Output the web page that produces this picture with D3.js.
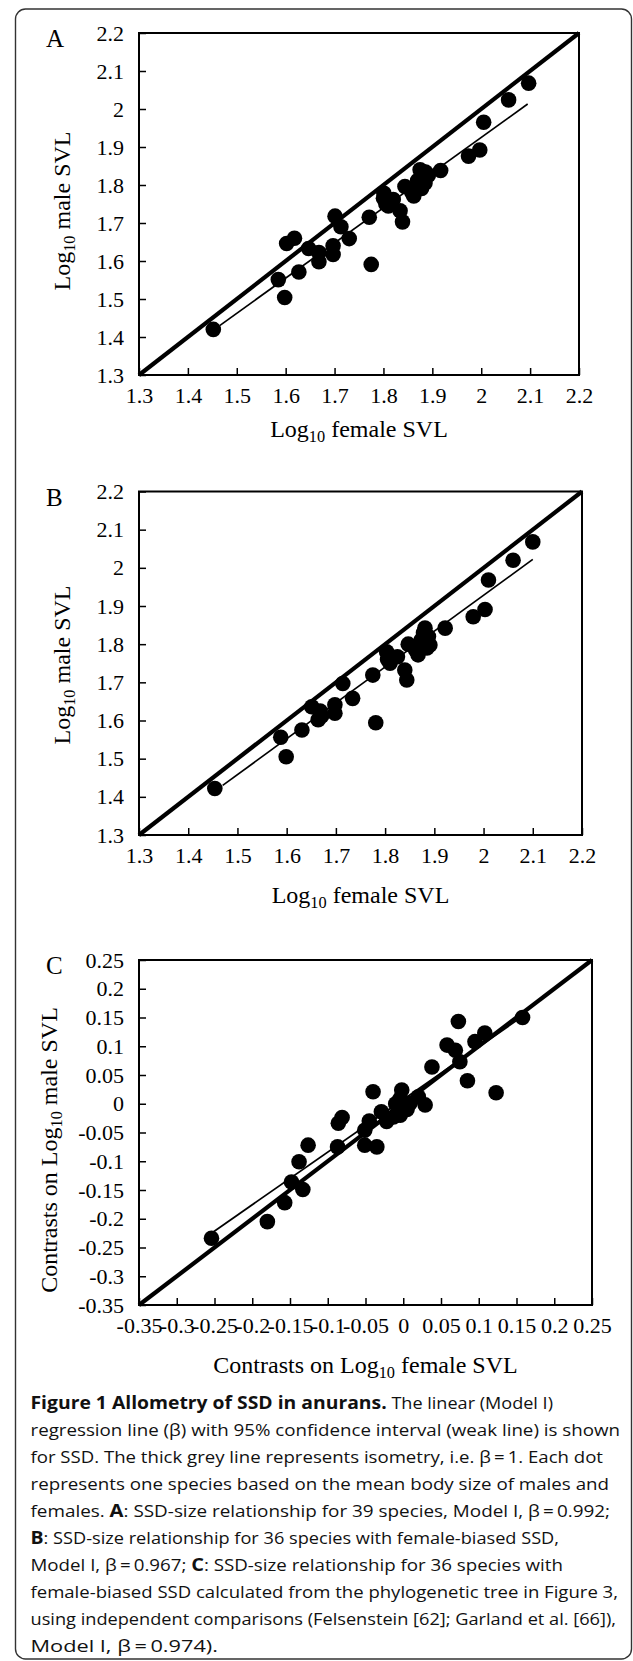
<!DOCTYPE html>
<html><head><meta charset="utf-8">
<script src="https://cdn.jsdelivr.net/npm/d3@7"></script>
<style>html,body{margin:0;padding:0;background:#fff;}svg{display:block}</style>
</head><body>
<svg id="fig" width="633" height="1661"></svg>
<script>
// ---------------- DATA ----------------
const logTicks = [1.3, 1.4, 1.5, 1.6, 1.7, 1.8, 1.9, 2, 2.1, 2.2];
const contrastTicks = [-0.35, -0.3, -0.25, -0.2, -0.15, -0.1, -0.05, 0, 0.05, 0.1, 0.15, 0.2, 0.25];

// Panel A: 39 species (log10 SVL)
const A_female = [1.452, 1.598, 1.585, 1.627, 1.602, 1.618, 1.647, 1.668, 1.668, 1.697, 1.697, 1.701, 1.713, 1.730, 1.771, 1.775, 1.801, 1.805, 1.820, 1.834, 1.839, 1.844, 1.862, 1.875, 1.881, 1.885, 1.878, 1.892, 1.917, 1.974, 1.997, 2.005, 2.056, 2.097, 1.810, 1.870, 1.886, 1.858, 1.800];
const A_male   = [1.420, 1.504, 1.551, 1.571, 1.646, 1.660, 1.633, 1.598, 1.622, 1.640, 1.617, 1.718, 1.690, 1.659, 1.715, 1.591, 1.778, 1.750, 1.762, 1.732, 1.703, 1.796, 1.771, 1.840, 1.822, 1.805, 1.791, 1.826, 1.838, 1.876, 1.892, 1.965, 2.024, 2.068, 1.745, 1.812, 1.834, 1.780, 1.765];
const A_fit = [[1.465, 1.430], [2.095, 2.013]];

// Panel B: 36 species with female-biased SSD
const B_female = [1.454, 1.599, 1.588, 1.631, 1.651, 1.671, 1.668, 1.698, 1.698, 1.714, 1.734, 1.775, 1.781, 1.803, 1.810, 1.825, 1.840, 1.844, 1.847, 1.867, 1.881, 1.888, 1.891, 1.885, 1.922, 1.979, 2.003, 2.010, 2.060, 2.100, 1.873, 1.878, 1.815, 1.805, 1.862, 1.664];
const B_male   = [1.422, 1.505, 1.556, 1.575, 1.636, 1.612, 1.625, 1.641, 1.619, 1.697, 1.658, 1.719, 1.594, 1.780, 1.750, 1.767, 1.732, 1.706, 1.800, 1.772, 1.842, 1.820, 1.798, 1.790, 1.842, 1.872, 1.891, 1.968, 2.020, 2.068, 1.810, 1.830, 1.765, 1.760, 1.785, 1.602];
const B_fit = [[1.470, 1.430], [2.100, 2.022]];

// Panel C: independent contrasts
const C_female = [-0.254, -0.180, -0.157, -0.148, -0.133, -0.138, -0.126, -0.087, -0.086, -0.081, -0.051, -0.051, -0.035, -0.040, -0.029, -0.022, -0.013, -0.002, -0.004, -0.004, 0.009, 0.020, 0.029, 0.038, 0.058, 0.073, 0.069, 0.075, 0.085, 0.095, 0.108, 0.123, 0.158, -0.045, 0.005, -0.010];
const C_male   = [-0.234, -0.205, -0.172, -0.136, -0.149, -0.101, -0.072, -0.075, -0.034, -0.024, -0.046, -0.072, -0.075, 0.021, -0.014, -0.031, -0.023, 0.024, 0.009, -0.020, 0.001, 0.012, -0.002, 0.064, 0.102, 0.143, 0.093, 0.073, 0.040, 0.108, 0.123, 0.019, 0.150, -0.030, -0.010, 0.000];
const C_fit = [[-0.255, -0.226], [0.158, 0.152]];

const captionLines = [
  [["Figure 1 Allometry of SSD in anurans.", true], [" The linear (Model I)", false]],
  [["regression line (\u03B2) with 95% confidence interval (weak line) is shown", false]],
  [["for SSD. The thick grey line represents isometry, i.e. \u03B2\u2009=\u20091. Each dot", false]],
  [["represents one species based on the mean body size of males and", false]],
  [["females. ", false], ["A", true], [": SSD-size relationship for 39 species, Model I, \u03B2\u2009=\u20090.992;", false]],
  [["B", true], [": SSD-size relationship for 36 species with female-biased SSD,", false]],
  [["Model I, \u03B2\u2009=\u20090.967; ", false], ["C", true], [": SSD-size relationship for 36 species with", false]],
  [["female-biased SSD calculated from the phylogenetic tree in Figure 3,", false]],
  [["using independent comparisons (Felsenstein [62]; Garland et al. [66]),", false]],
  [["Model I, \u03B2\u2009=\u20090.974).", false]]
];
const captionRight = [553, 620, 603, 609, 610, 559, 563, 618, 616, 218];

// ---------------- LAYOUT ----------------
const svg = d3.select("#fig");
const serif = "'Liberation Serif','Times New Roman',Times,serif";

svg.append("rect").attr("x", 15.5).attr("y", 9).attr("width", 616).attr("height", 1650)
  .attr("rx", 10).attr("fill", "none").attr("stroke", "#333").attr("stroke-width", 1.4);

const panels = [
  {label: "A", xr: [139, 579], yr: [375, 33], dom: [1.3, 2.2], ticks: logTicks,
   fem: A_female, male: A_male, fit: A_fit, xt: ["Log", "10", " female SVL"], yt: ["Log", "10", " male SVL"],
   xtY: 437, ytX: 70, ytY: 211},
  {label: "B", xr: [139, 582], yr: [835, 491.5], dom: [1.3, 2.2], ticks: logTicks,
   fem: B_female, male: B_male, fit: B_fit, xt: ["Log", "10", " female SVL"], yt: ["Log", "10", " male SVL"],
   xtY: 903, ytX: 70, ytY: 665},
  {label: "C", xr: [139, 592], yr: [1305, 960], dom: [-0.35, 0.25], ticks: contrastTicks,
   fem: C_female, male: C_male, fit: C_fit, xt: ["Contrasts on Log", "10", " female SVL"], yt: ["Contrasts on Log", "10", " male SVL"],
   xtY: 1373, ytX: 57, ytY: 1150}
];

const fmt = d => String(+d.toFixed(2));

function subText(sel, parts, size) {
  sel.append("tspan").text(parts[0]);
  sel.append("tspan").attr("font-size", size * 0.68).attr("dy", size * 0.22).text(parts[1]);
  sel.append("tspan").attr("dy", -size * 0.22).text(parts[2]);
}

panels.forEach(p => {
  const x = d3.scaleLinear().domain(p.dom).range(p.xr);
  const y = d3.scaleLinear().domain(p.dom).range(p.yr);
  const g = svg.append("g");

  // axes
  const xa = g.append("g").attr("transform", `translate(0,${p.yr[0]})`)
    .call(d3.axisBottom(x).tickValues(p.ticks).tickSize(-7).tickPadding(12).tickFormat(fmt));
  const ya = g.append("g").attr("transform", `translate(${p.xr[0]},0)`)
    .call(d3.axisLeft(y).tickValues(p.ticks).tickSize(-7).tickPadding(15).tickFormat(fmt));
  [xa, ya].forEach(a => {
    a.select(".domain").remove();
    a.selectAll("line").attr("stroke", "#000").attr("stroke-width", 1.5);
    a.selectAll("text").attr("font-family", serif).attr("font-size", 22).attr("fill", "#000");
  });

  // frame
  g.append("rect").attr("x", p.xr[0]).attr("y", p.yr[1])
    .attr("width", p.xr[1] - p.xr[0]).attr("height", p.yr[0] - p.yr[1])
    .attr("fill", "none").attr("stroke", "#000").attr("stroke-width", 2);

  // isometry line
  g.append("line").attr("x1", x(p.dom[0])).attr("y1", y(p.dom[0]))
    .attr("x2", x(p.dom[1])).attr("y2", y(p.dom[1]))
    .attr("stroke", "#000").attr("stroke-width", 4.2);
  // regression line
  g.append("line").attr("x1", x(p.fit[0][0])).attr("y1", y(p.fit[0][1]))
    .attr("x2", x(p.fit[1][0])).attr("y2", y(p.fit[1][1]))
    .attr("stroke", "#000").attr("stroke-width", 1.7);

  // dots
  g.selectAll("circle.dot").data(p.fem.map((f, i) => [f, p.male[i]])).join("circle")
    .attr("class", "dot").attr("cx", d => x(d[0])).attr("cy", d => y(d[1]))
    .attr("r", 7.8).attr("fill", "#000");

  // panel letter
  g.append("text").attr("x", 46).attr("y", p.yr[1] + 14).attr("font-family", serif)
    .attr("font-size", 25).text(p.label);

  // x title
  const xt = g.append("text").attr("x", (p.xr[0] + p.xr[1]) / 2).attr("y", p.xtY)
    .attr("text-anchor", "middle").attr("font-family", serif).attr("font-size", 24);
  subText(xt, p.xt, 24);
  // y title
  const yt = g.append("text").attr("transform", `translate(${p.ytX},${p.ytY}) rotate(-90)`)
    .attr("text-anchor", "middle").attr("font-family", serif).attr("font-size", 24);
  subText(yt, p.yt, 24);
});

// caption
const capX = 30.5, capY0 = 1409, capDy = 27;
const cap = svg.append("g").attr("font-family", "'Open Sans','Noto Sans',sans-serif").attr("fill", "#111");
captionLines.forEach((line, i) => {
  const t = cap.append("text").attr("x", capX).attr("y", capY0 + i * capDy).attr("font-size", 17);
  line.forEach(([s, b]) => t.append("tspan").attr("font-weight", b ? "bold" : "normal")
    .attr("font-size", b ? 18.2 : 17).text(s));
  t.attr("textLength", captionRight[i] - capX).attr("lengthAdjust", "spacingAndGlyphs");
});
</script>
</body></html>
